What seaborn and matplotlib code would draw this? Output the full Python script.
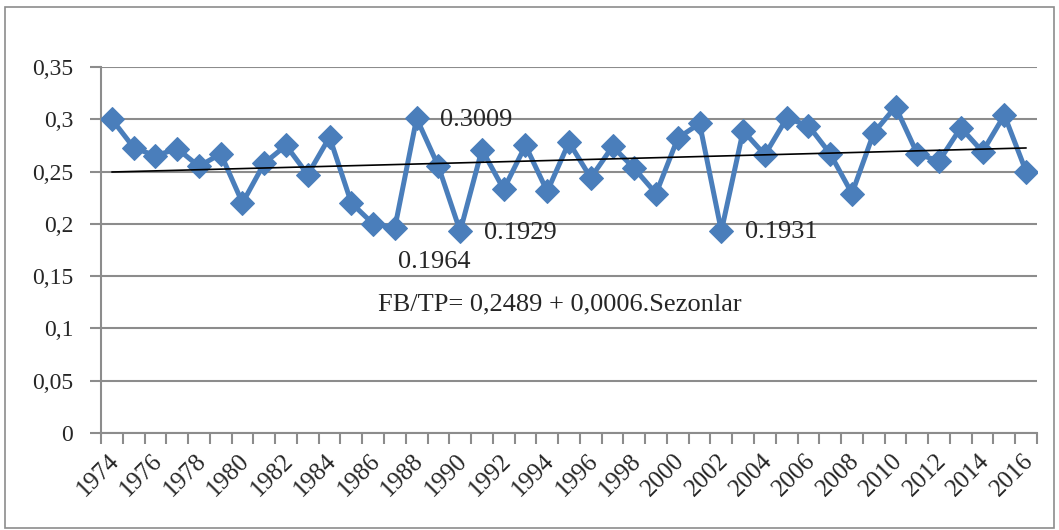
import numpy as np
import pandas as pd
import seaborn as sns
import matplotlib.pyplot as plt
from matplotlib.patches import Rectangle
from matplotlib.ticker import FixedLocator
from matplotlib.transforms import ScaledTranslation

# Seasons and FB/TP ratio
years = list(range(1974, 2017))
ratio = [0.300, 0.273, 0.265, 0.272, 0.255, 0.267, 0.220, 0.258, 0.275, 0.247,
         0.283, 0.220, 0.200, 0.1964, 0.3009, 0.255, 0.1929, 0.271, 0.233, 0.275,
         0.231, 0.278, 0.244, 0.274, 0.253, 0.229, 0.282, 0.296, 0.1931, 0.289,
         0.266, 0.301, 0.294, 0.267, 0.229, 0.287, 0.312, 0.267, 0.260, 0.292,
         0.269, 0.304, 0.250]

# labelled points: year -> label text
labels = {1988: "0.3009", 1987: "0.1964", 1990: "0.1929", 2002: "0.1931"}
equation = "FB/TP= 0,2489 + 0,0006.Sezonlar"

y_ticks = [0, 0.05, 0.1, 0.15, 0.2, 0.25, 0.3, 0.35]
y_ticklabels = ["0", "0,05", "0,1", "0,15", "0,2", "0,25", "0,3", "0,35"]
x_labelled = years[::2]

df = pd.DataFrame({"Sezon": years, "FBTP": ratio})

sns.set_style("white")
plt.rcParams["font.family"] = ["Liberation Serif", "DejaVu Serif"]

fig = plt.figure(figsize=(10.59, 5.30), dpi=100)
ax = fig.add_axes([101 / 1059, 1 - 433 / 530, 936 / 1059, 366 / 530])

# chart border
fig.patches.append(Rectangle((5 / 1059, 2 / 530), 1049 / 1059, 521 / 530,
                             transform=fig.transFigure, fill=False,
                             edgecolor="#8c8c8c", linewidth=1.2))

blue = "#4a7ebb"
sns.lineplot(data=df, x="Sezon", y="FBTP", ax=ax, color=blue, linewidth=3.6,
             marker="D", markersize=12, markeredgecolor=blue, zorder=3)
sns.regplot(data=df, x="Sezon", y="FBTP", ax=ax, scatter=False, ci=None,
            line_kws={"color": "black", "linewidth": 1.2, "zorder": 4})

for yr, txt in labels.items():
    val = ratio[years.index(yr)]
    if yr == 1987:
        ax.annotate(txt, (yr, val), xytext=(2, -25), textcoords="offset points",
                    ha="left", va="center", fontsize=19)
    else:
        ax.annotate(txt, (yr, val), xytext=(17, -1), textcoords="offset points",
                    ha="left", va="center", fontsize=19)

ax.text(0.296, 0.35, equation, transform=ax.transAxes, ha="left", va="center",
        fontsize=19)

ax.set_xlim(years[0] - 0.5, years[-1] + 0.5)
ax.set_ylim(0, 0.35)
ax.set_yticks(y_ticks)
ax.set_yticklabels(y_ticklabels, fontsize=17)

# category labels, rotated like the original
ax.set_xticks(x_labelled)
ax.set_xticklabels([])
lab_tr = ax.get_xaxis_transform() + ScaledTranslation(-3 / 72, -12 / 72, fig.dpi_scale_trans)
for yr in x_labelled:
    ax.text(yr, 0, str(yr), transform=lab_tr, fontsize=18, rotation=45,
            ha="right", va="top", rotation_mode="anchor")

ax.xaxis.set_minor_locator(FixedLocator(np.arange(years[0] - 0.5, years[-1] + 1, 1)))
ax.tick_params(axis="x", which="major", length=0)
ax.tick_params(axis="x", which="minor", length=8, width=1.5, color="#8c8c8c",
               direction="out", bottom=True)
ax.tick_params(axis="y", length=8, width=1.5, color="#8c8c8c", direction="out",
               left=True, pad=12)

ax.grid(axis="y", color="#8c8c8c", linewidth=1.5)
ax.set_axisbelow(True)
for s in ["top", "right"]:
    ax.spines[s].set_visible(False)
for s in ["left", "bottom"]:
    ax.spines[s].set_color("#8c8c8c")
    ax.spines[s].set_linewidth(1.5)
ax.set_xlabel("")
ax.set_ylabel("")

fig.savefig("out.png", dpi=100)
